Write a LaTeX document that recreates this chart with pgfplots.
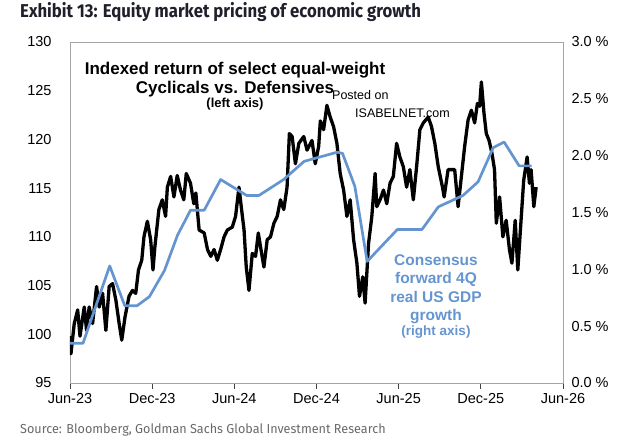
\documentclass[border=0pt]{standalone}
\usepackage{fontspec}
\setmainfont{Liberation Sans}
\newfontfamily\titlefont[FakeStretch=0.9]{Fira Sans}
\newfontfamily\srcfont[FakeStretch=0.97]{Fira Sans}
\usepackage{pgfplots}
\usepackage{pgfplotstable}
\pgfplotsset{compat=1.18}
\definecolor{gsblue}{RGB}{101,149,208}
\definecolor{boxgray}{RGB}{165,165,165}
\definecolor{srcgray}{RGB}{105,105,105}
\definecolor{titlecol}{RGB}{32,32,44}

\pgfplotstableread{
m v
0.00 99.8
0.07 98.0
0.31 101.1
0.56 102.5
0.73 99.8
1.04 102.8
1.21 100.4
1.40 102.8
1.65 101.1
1.94 104.9
2.13 102.8
2.38 104.2
2.62 100.4
2.86 104.9
3.11 105.2
3.35 103.5
3.59 101.1
3.78 99.4
4.02 101.8
4.31 103.9
4.56 104.5
4.80 104.2
5.00 106.6
5.24 107.6
5.40 110.0
5.65 111.6
5.89 109.7
6.06 106.6
6.20 109.0
6.49 112.8
6.74 113.8
6.98 112.1
7.11 115.1
7.35 116.2
7.59 114.1
7.83 116.3
8.07 114.8
8.31 113.8
8.49 116.5
8.80 115.5
9.04 113.4
9.19 114.5
9.43 110.7
9.80 110.4
10.04 108.7
10.28 108.0
10.52 108.7
10.76 107.6
11.00 108.7
11.25 110.0
11.49 110.7
11.85 111.0
12.09 112.1
12.34 115.1
12.53 112.8
12.71 110.7
12.87 106.9
13.07 104.5
13.31 108.3
13.55 108.0
13.75 110.4
13.91 109.0
14.16 106.9
14.40 109.7
14.64 110.0
14.89 111.4
15.13 112.1
15.37 113.8
15.61 112.8
15.85 115.1
16.02 120.6
16.22 120.3
16.46 117.5
16.71 119.6
17.07 120.3
17.31 118.9
17.67 119.9
17.91 117.5
18.16 119.3
18.28 121.9
18.52 121.0
18.76 123.5
19.00 122.3
19.25 121.3
19.49 119.6
19.73 116.5
19.98 114.8
20.22 112.1
20.46 113.8
20.71 109.7
20.95 107.3
21.14 103.9
21.38 105.9
21.55 103.2
21.80 109.3
22.04 112.1
22.28 116.5
22.40 113.1
22.64 113.8
22.89 114.8
23.13 113.4
23.37 115.5
23.61 116.2
23.85 119.6
24.09 118.2
24.34 117.2
24.58 115.1
24.82 116.9
25.07 113.8
25.31 117.2
25.55 121.0
25.80 121.7
26.16 122.3
26.40 121.3
26.64 119.6
26.89 117.2
27.20 115.1
27.32 114.1
27.61 116.9
27.85 116.9
28.09 116.9
28.34 113.1
28.58 116.2
28.82 119.3
29.07 122.0
29.31 123.0
29.55 121.7
29.75 123.7
29.91 123.4
30.04 125.9
30.23 122.7
30.40 120.6
30.60 119.9
30.81 118.6
31.00 116.9
31.13 111.4
31.37 114.1
31.61 110.0
31.85 111.7
32.09 108.7
32.27 107.3
32.51 111.7
32.70 106.6
32.89 110.7
33.13 115.8
33.38 118.2
33.55 115.5
33.67 116.9
33.87 113.1
34.04 115.1
}\cycdata

\pgfplotstableread{
m g
0.0 0.35
0.95 0.35
2.9 1.03
4.0 0.68
4.9 0.68
5.8 0.76
6.9 0.99
7.85 1.30
8.8 1.52
9.8 1.52
11.0 1.79
12.9 1.65
13.8 1.65
15.6 1.79
17.1 1.95
19.5 2.03
19.9 2.02
20.8 1.73
21.7 1.07
23.9 1.35
25.7 1.35
26.9 1.55
28.7 1.65
29.8 1.77
30.9 2.07
31.7 2.12
32.8 1.91
33.7 1.91
}\gdpdata

\begin{document}
\begin{tikzpicture}
\path[use as bounding box] (-70pt,-56pt) rectangle (570pt,383pt);
\pgfplotsset{
  every axis/.append style={
    scale only axis, width=493pt, height=341pt,
    xmin=0, xmax=36,
    tick label style={font=\fontsize{14.5}{15}\selectfont},
    y tick style={draw=none},
  }
}
\begin{axis}[
  ymin=95, ymax=130,
  axis line style={boxgray, line width=0.8pt},
  xtick={0,6,...,36},
  xticklabels={Jun-23,Dec-23,Jun-24,Dec-24,Jun-25,Dec-25,Jun-26},
  xtick pos=bottom, xtick align=outside,
  x tick style={black!75, line width=0.8pt},
  major tick length=6pt,
  ytick={95,100,...,130},
  yticklabels={95,100,105,110,115,120,125,130},
  ytick pos=left,
  yticklabel style={xshift=-15pt},
  xticklabel style={yshift=-1pt},
]
\addplot[black, line width=3.3pt, line join=round] table[x=m,y=v] {\cycdata};
\end{axis}
\begin{axis}[
  ymin=0, ymax=3,
  axis x line=none,
  axis y line*=right,
  axis line style={boxgray, line width=0.8pt},
  ytick={0,0.5,...,3},
  yticklabels={0.0 \%,0.5 \%,1.0 \%,1.5 \%,2.0 \%,2.5 \%,3.0 \%},
  yticklabel style={xshift=5pt},
]
\addplot[gsblue, line width=2.7pt, line join=round] table[x=m,y=g] {\gdpdata};
\end{axis}

% title and source
\node[anchor=base west, inner sep=0pt, text=titlecol] at (-50pt,365pt)
  {\titlefont\bfseries\fontsize{18.6}{20}\selectfont Exhibit 13: Equity market pricing of economic growth};
\node[anchor=base west, inner sep=0pt, text=srcgray] at (-50pt,-51pt)
  {\srcfont\fontsize{13}{15}\selectfont Source: Bloomberg, Goldman Sachs Global Investment Research};

% left annotation
\node[anchor=base, inner sep=0pt] at (165pt,308pt)
  {\bfseries\fontsize{17}{19}\selectfont Indexed return of select equal-weight};
\node[anchor=base, inner sep=0pt] at (165pt,289pt)
  {\bfseries\fontsize{17}{19}\selectfont Cyclicals vs. Defensives};
\node[anchor=base, inner sep=0pt] at (165pt,275pt)
  {\bfseries\fontsize{13}{15}\selectfont (left axis)};

% watermark
\node[anchor=base west, inner sep=0pt] at (262pt,283pt)
  {\fontsize{12.5}{14}\selectfont Posted on};
\node[anchor=base west, inner sep=0pt] at (285pt,265pt)
  {\fontsize{12.5}{14}\selectfont ISABELNET.com};

% right annotation
\node[anchor=base, inner sep=0pt, text=gsblue] at (366pt,117pt)
  {\bfseries\fontsize{15.5}{17}\selectfont Consensus};
\node[anchor=base, inner sep=0pt, text=gsblue] at (366pt,99pt)
  {\bfseries\fontsize{15.5}{17}\selectfont forward 4Q};
\node[anchor=base, inner sep=0pt, text=gsblue] at (366pt,80pt)
  {\bfseries\fontsize{15.5}{17}\selectfont real US GDP};
\node[anchor=base, inner sep=0pt, text=gsblue] at (366pt,62pt)
  {\bfseries\fontsize{15.5}{17}\selectfont growth};
\node[anchor=base, inner sep=0pt, text=gsblue] at (366pt,47pt)
  {\bfseries\fontsize{13.5}{15}\selectfont (right axis)};
\end{tikzpicture}
\end{document}
